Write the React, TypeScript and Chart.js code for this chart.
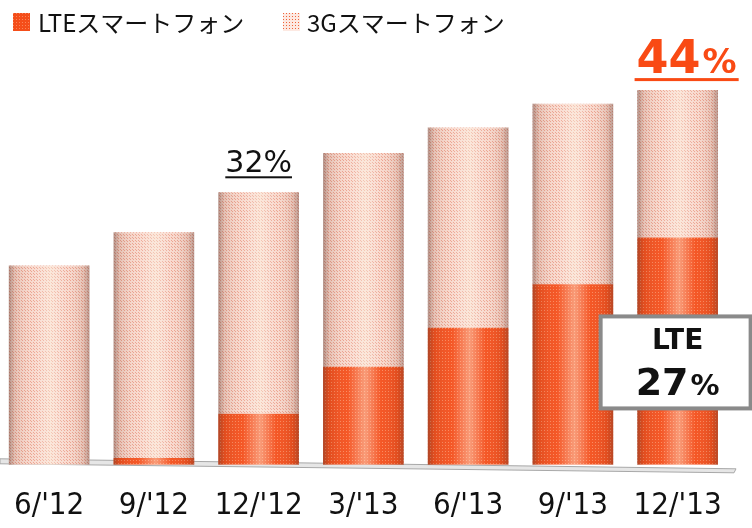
import React, { useEffect, useRef } from "react";
import { Chart, registerables } from "chart.js";

Chart.register(...registerables);

const categories = ["6/'12", "9/'12", "12/'12", "3/'13", "6/'13", "9/'13", "12/'13"];
const lteValues = [0, 0.8, 6.0, 11.5, 16.1, 21.2, 26.7];
const g3Values = [23.4, 26.5, 26.0, 25.1, 23.5, 21.2, 17.3];
const seriesNames = ["LTEスマートフォン", "3Gスマートフォン"];
const totalLabelIndex = 2;
const totalLabelText = "32";
const lastLabelText = "44";
const lteBoxTitle = "LTE";
const lteBoxValue = "27";

const SHIFT = 9;

function makeDotPattern(base: string, dot: string, size: number, dotSize: number) {
  const c = document.createElement("canvas");
  c.width = size;
  c.height = size;
  const g = c.getContext("2d")!;
  g.fillStyle = base;
  g.fillRect(0, 0, size, size);
  g.fillStyle = dot;
  g.fillRect(1, 1, dotSize, dotSize);
  return g.createPattern(c, "repeat")!;
}

export default function App() {
  const ref = useRef<HTMLCanvasElement | null>(null);

  useEffect(() => {
    const canvas = ref.current!;
    const ltePat = makeDotPattern("#f44e1a", "#fb8558", 3, 1);
    const g3Pat = (() => {
      const c = document.createElement("canvas");
      c.width = 3;
      c.height = 3;
      const g = c.getContext("2d")!;
      g.fillStyle = "#f8d8cc";
      g.fillRect(0, 0, 3, 3);
      g.fillStyle = "#eca08c";
      g.fillRect(1, 1, 1, 1);
      g.fillRect(0, 0, 1, 1);
      return g.createPattern(c, "repeat")!;
    })();
    const legendG3Pat = makeDotPattern("#fde9e2", "#f0643a", 3, 1);

    const decor = {
      id: "decor",
      beforeDatasetsDraw(chart: any) {
        const c = chart.ctx;
        const ys = chart.scales.y;
        const base = ys.getPixelForValue(0);
        c.save();
        c.translate(SHIFT, 0);
        c.beginPath();
        c.moveTo(0, base - 6);
        c.lineTo(736, base + 4);
        c.lineTo(734, base + 8);
        c.lineTo(0, base - 1);
        c.closePath();
        c.fillStyle = "#e6e6e6";
        c.fill();
        c.strokeStyle = "#a8a8a8";
        c.lineWidth = 1;
        c.stroke();
        c.restore();
      },
      afterDatasetsDraw(chart: any) {
        const c = chart.ctx;
        const m0 = chart.getDatasetMeta(0);
        const m1 = chart.getDatasetMeta(1);
        c.save();
        m1.data.forEach((el1: any, i: number) => {
          const el0 = m0.data[i];
          const half = el1.width / 2;
          const left = el1.x - half;
          const right = el1.x + half;
          const top = Math.min(el1.y, el0.y);
          const bottom = el0.base;
          const gr = c.createLinearGradient(left, 0, right, 0);
          gr.addColorStop(0, "rgba(90,60,55,0.45)");
          gr.addColorStop(0.08, "rgba(120,70,55,0.15)");
          gr.addColorStop(0.3, "rgba(255,255,255,0.05)");
          gr.addColorStop(0.52, "rgba(255,250,235,0.45)");
          gr.addColorStop(0.72, "rgba(255,255,255,0.05)");
          gr.addColorStop(0.92, "rgba(120,70,55,0.15)");
          gr.addColorStop(1, "rgba(90,60,55,0.4)");
          c.fillStyle = gr;
          c.fillRect(left, top, right - left, bottom - top);
        });
        c.restore();
      },
      afterDraw(chart: any) {
        const c = chart.ctx;
        const m1 = chart.getDatasetMeta(1);
        const m0 = chart.getDatasetMeta(0);
        c.save();
        c.translate(SHIFT, 0);
        // legend
        c.fillStyle = ltePat;
        c.fillRect(13, 13, 17, 18);
        c.fillStyle = legendG3Pat;
        c.fillRect(283, 13, 17, 18);
        c.fillStyle = "#111";
        c.font = "24px 'Noto Sans CJK JP'";
        c.textBaseline = "middle";
        c.textAlign = "left";
        c.fillText(seriesNames[0], 38, 23);
        c.fillText(seriesNames[1], 307, 23);
        c.restore();

        c.save();
        // 32% label
        const e3 = m1.data[totalLabelIndex];
        c.font = "30px 'DejaVu Sans'";
        c.textAlign = "center";
        c.textBaseline = "alphabetic";
        const t1 = totalLabelText + "%";
        const w1 = c.measureText(t1).width;
        c.fillStyle = "#111";
        c.fillText(t1, e3.x, e3.y - 20);
        c.fillRect(e3.x - w1 / 2, e3.y - 16, w1, 2);

        // 44% label
        const e7 = m1.data[m1.data.length - 1];
        c.font = "bold 46px 'DejaVu Sans'";
        const wA = c.measureText(lastLabelText).width;
        c.font = "bold 34px 'DejaVu Sans'";
        const wB = c.measureText("%").width;
        const tot = wA + wB + 2;
        const sx = e7.x + 9 - tot / 2;
        const by = e7.y - 17;
        c.fillStyle = "#f94a14";
        c.textAlign = "left";
        c.font = "bold 46px 'DejaVu Sans'";
        c.fillText(lastLabelText, sx, by);
        c.font = "bold 34px 'DejaVu Sans'";
        c.fillText("%", sx + wA + 2, by);
        c.fillRect(sx - 2, by + 5, tot + 4, 3);

        // LTE box
        const e7l = m0.data[m0.data.length - 1];
        const cx = e7l.x;
        const bx = cx - 77;
        const byTop = e7l.y + 79;
        const bw = 150;
        const bh = 92;
        c.fillStyle = "#fff";
        c.fillRect(bx, byTop, bw, bh);
        c.strokeStyle = "#8a8a8a";
        c.lineWidth = 4;
        c.strokeRect(bx, byTop, bw, bh);
        c.fillStyle = "#111";
        c.textAlign = "center";
        c.font = "bold 28px 'DejaVu Sans'";
        c.fillText(lteBoxTitle, cx, byTop + 33);
        c.font = "bold 38px 'DejaVu Sans'";
        const w27 = c.measureText(lteBoxValue).width;
        c.font = "bold 29px 'DejaVu Sans'";
        const wP = c.measureText("%").width;
        const s2 = cx - (w27 + wP + 2) / 2;
        c.textAlign = "left";
        c.font = "bold 38px 'DejaVu Sans'";
        c.fillText(lteBoxValue, s2, byTop + 79);
        c.font = "bold 29px 'DejaVu Sans'";
        c.fillText("%", s2 + w27 + 2, byTop + 79);
        c.restore();
      },
    };

    const chart = new Chart(canvas, {
      type: "bar",
      data: {
        labels: categories,
        datasets: [
          {
            label: seriesNames[0],
            data: lteValues,
            backgroundColor: ltePat as any,
            borderWidth: 0,
            barPercentage: 0.77,
            categoryPercentage: 1,
          },
          {
            label: seriesNames[1],
            data: g3Values,
            backgroundColor: g3Pat as any,
            borderWidth: 0,
            barPercentage: 0.77,
            categoryPercentage: 1,
          },
        ],
      },
      options: {
        responsive: false,
        animation: false,
        layout: { padding: { top: 39, left: 0, right: 22, bottom: 0 } },
        plugins: { legend: { display: false }, tooltip: { enabled: false } },
        scales: {
          x: {
            stacked: true,
            grid: { display: false, drawTicks: false },
            border: { display: false },
            ticks: {
              color: "#111",
              padding: 23,
              font: { family: "'DejaVu Sans Condensed', 'DejaVu Sans'", size: 31 },
            },
          },
          y: {
            stacked: true,
            display: false,
            min: 0,
            max: 50,
          },
        },
      },
      plugins: [decor],
    });
    return () => chart.destroy();
  }, []);

  return (
    <div
      style={{
        position: "fixed",
        left: 0,
        top: 0,
        width: 752,
        height: 528,
        overflow: "hidden",
        background: "#fff",
      }}
    >
      <canvas
        ref={ref}
        width={752 + SHIFT}
        height={548}
        style={{ display: "block", marginLeft: -SHIFT }}
      />
    </div>
  );
}
